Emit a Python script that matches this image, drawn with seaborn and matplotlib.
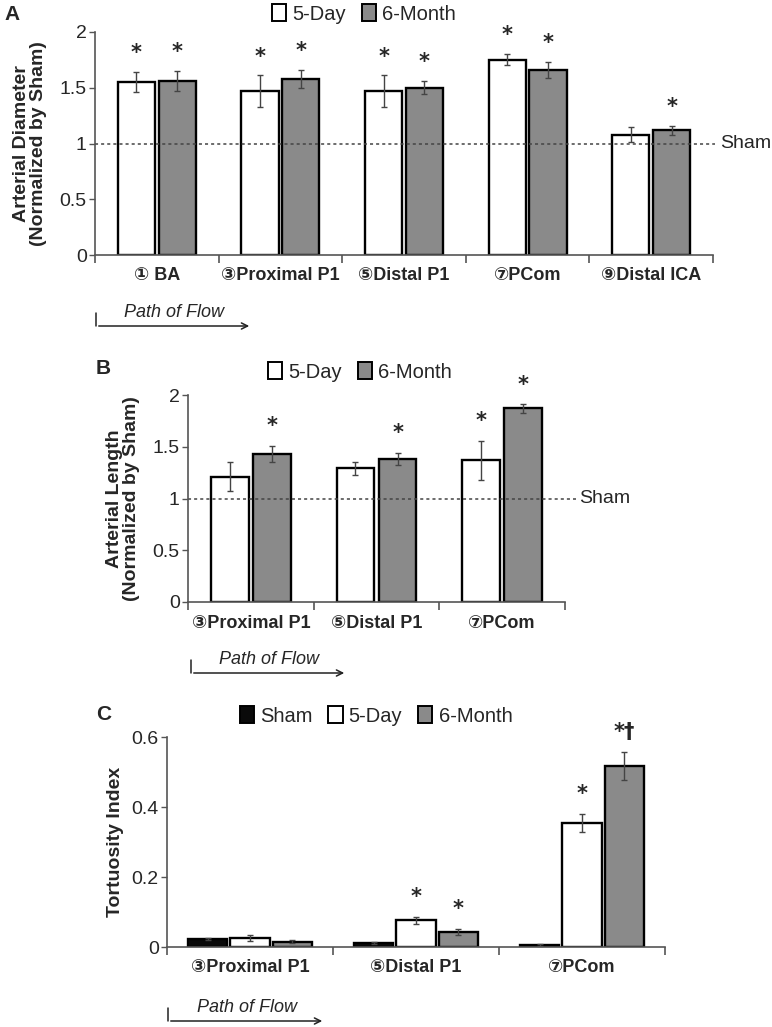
import numpy as np
import pandas as pd
import matplotlib
matplotlib.use('Agg')
import matplotlib.pyplot as plt
from matplotlib.lines import Line2D
from matplotlib.patches import Patch, FancyArrowPatch
from matplotlib.ticker import FormatStrFormatter
import matplotlib.transforms as mtrans
import seaborn as sns

# --- Panel A: arterial diameter ---
DIAM_SITES = ['① BA', '③Proximal P1', '⑤Distal P1', '⑦PCom', '⑨Distal ICA']
DIAM_5D = [1.55, 1.47, 1.47, 1.75, 1.08]
DIAM_5D_ERR = [0.09, 0.14, 0.14, 0.05, 0.07]
DIAM_6M = [1.56, 1.58, 1.50, 1.66, 1.12]
DIAM_6M_ERR = [0.09, 0.08, 0.06, 0.07, 0.04]
DIAM_STAR_5D = ['*', '*', '*', '*', '']
DIAM_STAR_6M = ['*', '*', '*', '*', '*']

# --- Panel B: arterial length ---
LEN_SITES = ['③Proximal P1', '⑤Distal P1', '⑦PCom']
LEN_5D = [1.21, 1.29, 1.37]
LEN_5D_ERR = [0.14, 0.06, 0.19]
LEN_6M = [1.43, 1.38, 1.87]
LEN_6M_ERR = [0.08, 0.06, 0.04]
LEN_STAR_5D = ['', '', '*']
LEN_STAR_6M = ['*', '*', '*']

# --- Panel C: tortuosity ---
TORT_SITES = ['③Proximal P1', '⑤Distal P1', '⑦PCom']
TORT_SHAM = [0.024, 0.011, 0.006]
TORT_SHAM_ERR = [0.003, 0.003, 0.003]
TORT_5D = [0.025, 0.076, 0.355]
TORT_5D_ERR = [0.008, 0.011, 0.026]
TORT_6M = [0.015, 0.043, 0.518]
TORT_6M_ERR = [0.004, 0.008, 0.040]
TORT_STAR_SHAM = ['', '', '']
TORT_STAR_5D = ['', '*', '*']
TORT_STAR_6M = ['', '*', '*†']

COLORS = {'Sham': '#0a0a0a', '5-Day': '#ffffff', '6-Month': '#8a8a8a'}

sns.set_theme(style='white')
FONT = ['Liberation Sans', 'DejaVu Sans']
plt.rcParams['font.family'] = FONT

W, H = 772, 1027
fig = plt.figure(figsize=(W / 100, H / 100), dpi=100)


def px_axes(x0, x1, ytop, ybot):
    return fig.add_axes([x0 / W, 1 - ybot / H, (x1 - x0) / W, (ybot - ytop) / H])


def draw_panel(ax, sites, groups, means, errs, stars, width, gap, ylim, yticks,
               ylabel, label_x, star_off, sham_ext=None):
    rows = []
    for g, vals in zip(groups, means):
        for s, v in zip(sites, vals):
            rows.append({'site': s, 'group': g, 'value': v})
    df = pd.DataFrame(rows)
    sns.barplot(data=df, x='site', y='value', hue='group', hue_order=groups,
                order=sites, palette=COLORS, edgecolor='black', linewidth=1.7,
                width=width, gap=gap, errorbar=None, legend=False, ax=ax)
    for cont, err, st in zip(ax.containers, errs, stars):
        for bar, e, s in zip(cont, err, st):
            xc = bar.get_x() + bar.get_width() / 2
            top = bar.get_height()
            ax.errorbar(xc, top, yerr=e, fmt='none', ecolor='#444444',
                        elinewidth=1.0, capsize=2.5, capthick=1.0)
            if s:
                ax.text(xc, top + e + star_off, s, ha='center', va='center',
                        fontsize=15, fontweight='bold', family=['DejaVu Sans'])
    ax.set_ylim(*ylim)
    ax.set_yticks(yticks)
    ax.yaxis.set_major_formatter(FormatStrFormatter('%g'))
    ax.set_xlabel('')
    ax.set_ylabel(ylabel, fontsize=14, fontweight='bold', linespacing=1.0)
    ax.yaxis.set_label_coords(label_x, 0.5)
    sns.despine(ax=ax)
    for sp in ('left', 'bottom'):
        ax.spines[sp].set_color('#555555')
        ax.spines[sp].set_linewidth(1.2)
    n = len(sites)
    ax.set_xlim(-0.5, n - 0.5)
    ax.set_xticks(np.arange(-0.5, n), minor=True)
    ax.tick_params(axis='x', which='major', length=0, pad=9)
    ax.tick_params(axis='x', which='minor', length=6, width=1.2, color='#555555',
                   direction='out', bottom=True)
    ax.tick_params(axis='y', length=4, width=1.0, color='#555555', left=True,
                   labelsize=14, pad=2)
    for t in ax.get_xticklabels():
        t.set_fontweight('bold')
        t.set_fontsize(13)
    if sham_ext is not None:
        tr = mtrans.blended_transform_factory(ax.transAxes, ax.transData)
        ax.plot([0, sham_ext], [1, 1], transform=tr, color='#444444', ls=(0, (2, 2)),
                lw=1.1, clip_on=False)
        ax.text(sham_ext + 0.008, 1, 'Sham', transform=tr, ha='left', va='center',
                fontsize=14)


def legend(groups, xc, yc):
    handles = [Patch(facecolor=COLORS[g], edgecolor='black', linewidth=1.4) for g in groups]
    fig.legend(handles, groups, loc='center', bbox_to_anchor=(xc / W, 1 - yc / H),
               ncol=len(groups), frameon=False, fontsize=14.5, handlelength=0.7,
               handleheight=0.9, handletextpad=0.3, columnspacing=0.8)


def path_of_flow(x0, x1, ytxt, yline):
    fig.add_artist(Line2D([x0 / W, x0 / W], [1 - (yline - 13) / H, 1 - yline / H],
                          color='#222222', lw=1.1))
    fig.add_artist(FancyArrowPatch(
        (x0 / W, 1 - yline / H), (x1 / W, 1 - yline / H), transform=fig.transFigure,
        arrowstyle='->', mutation_scale=11, color='#222222', lw=1.1))
    fig.text((x0 + x1) / 2 / W, 1 - ytxt / H, 'Path of Flow', ha='center',
             va='center', fontsize=13, style='italic')


# Panel A
axA = px_axes(95, 713, 32, 255)
draw_panel(axA, DIAM_SITES, ['5-Day', '6-Month'], [DIAM_5D, DIAM_6M],
           [DIAM_5D_ERR, DIAM_6M_ERR], [DIAM_STAR_5D, DIAM_STAR_6M],
           width=0.66, gap=0.09, ylim=(0, 2), yticks=[0, 0.5, 1, 1.5, 2],
           ylabel='Arterial Diameter\n(Normalized by Sham)', label_x=-0.078,
           star_off=0.17, sham_ext=1.003)
legend(['5-Day', '6-Month'], 364, 14)
fig.text(4 / W, 1 - 15 / H, 'A', fontsize=15, fontweight='bold', va='center')
path_of_flow(96, 252, 312, 326)

# Panel B
axB = px_axes(188, 565, 395, 602)
draw_panel(axB, LEN_SITES, ['5-Day', '6-Month'], [LEN_5D, LEN_6M],
           [LEN_5D_ERR, LEN_6M_ERR], [LEN_STAR_5D, LEN_STAR_6M],
           width=0.67, gap=0.1, ylim=(0, 2), yticks=[0, 0.5, 1, 1.5, 2],
           ylabel='Arterial Length\n(Normalized by Sham)', label_x=-0.127,
           star_off=0.19, sham_ext=1.03)
legend(['5-Day', '6-Month'], 360, 372)
fig.text(96 / W, 1 - 369 / H, 'B', fontsize=15, fontweight='bold', va='center')
path_of_flow(191, 347, 660, 673)

# Panel C
axC = px_axes(167, 665, 737, 947)
draw_panel(axC, TORT_SITES, ['Sham', '5-Day', '6-Month'], [TORT_SHAM, TORT_5D, TORT_6M],
           [TORT_SHAM_ERR, TORT_5D_ERR, TORT_6M_ERR],
           [TORT_STAR_SHAM, TORT_STAR_5D, TORT_STAR_6M],
           width=0.765, gap=0.07, ylim=(0, 0.6), yticks=[0, 0.2, 0.4, 0.6],
           ylabel='Tortuosity Index', label_x=-0.086, star_off=0.057)
legend(['Sham', '5-Day', '6-Month'], 376, 716)
fig.text(96 / W, 1 - 715 / H, 'C', fontsize=15, fontweight='bold', va='center')
path_of_flow(168, 325, 1007, 1021)

fig.savefig('out.png', dpi=100, facecolor='white')
